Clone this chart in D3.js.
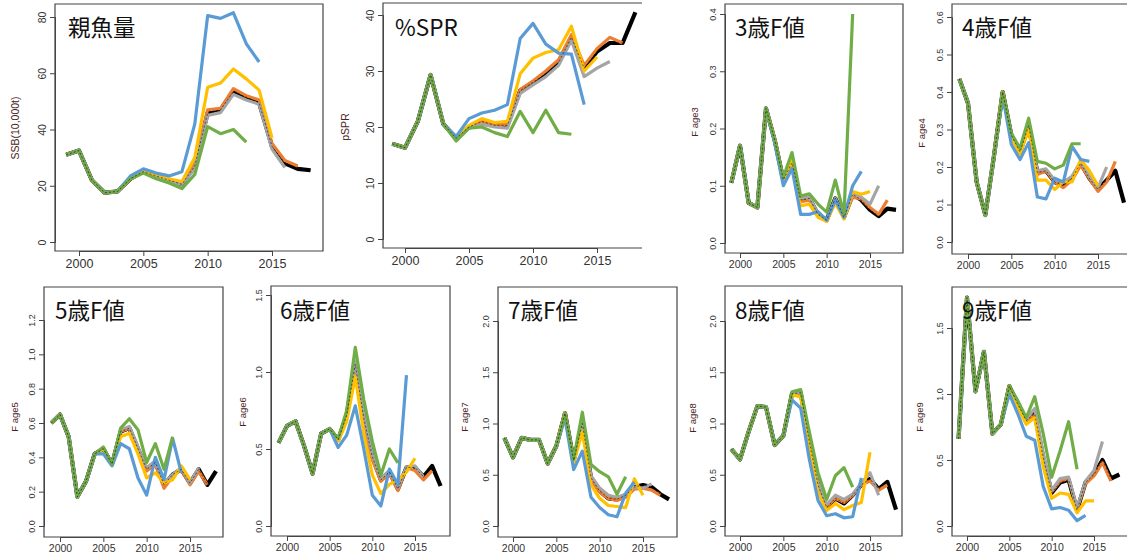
<!DOCTYPE html>
<html><head><meta charset="utf-8">
<script src="https://cdn.jsdelivr.net/npm/d3@7"></script>
<style>
html,body{margin:0;padding:0;background:#fff;}
svg{display:block;}
</style></head>
<body>
<svg id="chart" width="1127" height="557"></svg>
<script>
// ---------- data ----------
const years = [1999,2000,2001,2002,2003,2004,2005,2006,2007,2008,2009,2010,2011,2012,2013,2014,2015,2016,2017,2018];
const seriesNames = ["black","orange","grey","yellow","blue","green"];
const seriesColors = ["#000000","#ed7d31","#a5a5a5","#ffc000","#5b9bd5","#70ad47"];

const titles = ["親魚量","%SPR","3歳F値","4歳F値","5歳F値","6歳F値","7歳F値","8歳F値","9歳F値"];
const yTitles = ["SSB(10,000t)","pSPR","F age3","F age4","F age5","F age6","F age7","F age8","F age9"];
const xTicks = [2000,2005,2010,2015];
const yTicks = [
  [0,20,40,60,80],
  [0,10,20,30,40],
  [0,0.1,0.2,0.3,0.4],
  [0,0.1,0.2,0.3,0.4,0.5,0.6],
  [0,0.2,0.4,0.6,0.8,1.0,1.2],
  [0,0.5,1.0,1.5],
  [0,0.5,1.0,1.5,2.0],
  [0,0.5,1.0,1.5,2.0],
  [0,0.5,1.0,1.5]
];

// SSB
const ssbBlack  = [31,32.5,22,17.5,18,22.5,25,23.5,22,20.5,27,46,47,53.5,51.5,49.5,34,28,26,25.5];
const ssbOrange = [31,32.5,22,17.5,18,22.5,25,23.5,22,21,27.5,47,47.5,54.5,52,50.5,35,29,27];
const ssbGrey   = [31,32.5,22,17.5,18,22.5,25,23,21.5,20.5,26,45,46,52.5,50.5,49,33,26.5];
const ssbYellow = [31,32.5,22,17.5,18,22.5,25,24,22.5,21.5,30,55,56.5,61.5,58,54,37];
const ssbBlue   = [31,32.5,22,17.5,18,23.5,26,24.5,23.5,25,42,80.5,79.5,81.5,70.5,64];
const ssbGreen  = [31,32.5,22,17.5,18,22.5,24.5,22.5,21,19,24,41,38.5,40,35.5];
// %SPR
const sprBlack  = [17,16.3,21,29.3,20.5,18,20,21,20.3,20.3,26.5,28,29.5,31.5,36,30.5,33.5,35,35,40.5];
const sprOrange = [17,16.3,21,29.3,20.5,18,20,21,20.3,20.5,26.7,28.2,30,32,36.5,31,34,36,35];
const sprGrey   = [17,16.3,21,29.3,20.5,18,19.8,20.5,20,19.8,26,27.5,29,31,35.5,29,30.5,31.7];
const sprYellow = [17,16.3,21,29.3,20.5,18,20.3,21.5,20.8,21,29.5,32.3,33.3,33.8,38,30,32.5];
const sprBlue   = [17,16.3,21,29.3,20.5,18.3,21.5,22.5,23,24,35.8,38.5,34.8,33.2,33,24];
const sprGreen  = [17,16.3,21,29.3,20.5,17.5,19.8,20,19,18.3,22.8,19,23,19,18.7];
// F age3
const f3Black  = [0.105,0.17,0.07,0.062,0.235,0.18,0.11,0.14,0.075,0.078,0.05,0.04,0.078,0.045,0.085,0.075,0.058,0.047,0.06,0.058];
const f3Orange = [0.105,0.17,0.07,0.062,0.235,0.18,0.11,0.14,0.072,0.075,0.05,0.038,0.075,0.043,0.08,0.077,0.062,0.05,0.075];
const f3Grey   = [0.105,0.17,0.07,0.062,0.235,0.18,0.11,0.14,0.078,0.08,0.052,0.04,0.078,0.045,0.085,0.08,0.068,0.10];
const f3Yellow = [0.105,0.17,0.07,0.062,0.235,0.18,0.108,0.145,0.065,0.068,0.045,0.038,0.07,0.042,0.09,0.085,0.09];
const f3Blue   = [0.105,0.17,0.07,0.062,0.235,0.175,0.10,0.13,0.05,0.05,0.055,0.04,0.075,0.045,0.10,0.125];
const f3Green  = [0.105,0.17,0.07,0.062,0.235,0.18,0.115,0.158,0.082,0.086,0.068,0.054,0.11,0.05,0.40];
// F age4
const f4Black  = [0.435,0.37,0.16,0.072,0.23,0.40,0.285,0.24,0.31,0.185,0.19,0.16,0.15,0.17,0.21,0.17,0.14,0.165,0.19,0.105];
const f4Orange = [0.435,0.37,0.16,0.072,0.23,0.40,0.285,0.24,0.31,0.18,0.19,0.16,0.145,0.165,0.205,0.17,0.135,0.16,0.215];
const f4Grey   = [0.435,0.37,0.16,0.072,0.23,0.40,0.285,0.24,0.31,0.19,0.195,0.165,0.16,0.175,0.215,0.175,0.145,0.20];
const f4Yellow = [0.435,0.37,0.16,0.072,0.23,0.40,0.28,0.235,0.30,0.165,0.165,0.14,0.16,0.16,0.22,0.19,0.15];
const f4Blue   = [0.435,0.37,0.16,0.072,0.23,0.39,0.26,0.22,0.265,0.12,0.115,0.17,0.16,0.255,0.22,0.215];
const f4Green  = [0.435,0.37,0.16,0.072,0.23,0.40,0.29,0.25,0.33,0.215,0.21,0.195,0.205,0.262,0.262];
// F age5
const f5Black  = [0.60,0.65,0.52,0.17,0.26,0.42,0.45,0.36,0.55,0.57,0.45,0.33,0.37,0.24,0.30,0.33,0.25,0.33,0.24,0.32];
const f5Orange = [0.60,0.65,0.52,0.17,0.26,0.42,0.45,0.36,0.55,0.57,0.44,0.32,0.36,0.22,0.29,0.33,0.24,0.32,0.24];
const f5Grey   = [0.60,0.65,0.52,0.17,0.26,0.42,0.45,0.36,0.56,0.58,0.46,0.34,0.38,0.25,0.30,0.34,0.25,0.34];
const f5Yellow = [0.60,0.65,0.52,0.17,0.26,0.42,0.45,0.36,0.52,0.54,0.42,0.28,0.31,0.25,0.27,0.35,0.27];
const f5Blue   = [0.60,0.65,0.52,0.17,0.26,0.42,0.42,0.35,0.48,0.45,0.28,0.18,0.40,0.27,0.51,0.31];
const f5Green  = [0.60,0.65,0.52,0.17,0.26,0.42,0.46,0.36,0.57,0.625,0.56,0.37,0.48,0.33,0.52];
// F age6
const f6Black  = [0.54,0.65,0.68,0.52,0.34,0.60,0.63,0.56,0.72,1.05,0.70,0.45,0.30,0.35,0.24,0.38,0.38,0.32,0.39,0.26];
const f6Orange = [0.54,0.65,0.68,0.52,0.34,0.60,0.63,0.56,0.72,1.04,0.68,0.43,0.29,0.34,0.23,0.38,0.36,0.30,0.36];
const f6Grey   = [0.54,0.65,0.68,0.52,0.34,0.60,0.63,0.56,0.72,1.07,0.72,0.46,0.31,0.36,0.25,0.38,0.39,0.32];
const f6Yellow = [0.54,0.65,0.68,0.52,0.34,0.60,0.63,0.55,0.68,0.97,0.60,0.33,0.21,0.27,0.30,0.35,0.44];
const f6Blue   = [0.54,0.65,0.68,0.52,0.34,0.60,0.63,0.51,0.59,0.78,0.50,0.20,0.13,0.37,0.27,0.98];
const f6Green  = [0.54,0.65,0.68,0.52,0.34,0.60,0.63,0.57,0.75,1.16,0.82,0.55,0.33,0.50,0.41];
// F age7
const f7Black  = [0.86,0.67,0.86,0.84,0.84,0.61,0.78,1.10,0.64,1.0,0.47,0.34,0.27,0.26,0.30,0.38,0.40,0.38,0.31,0.26];
const f7Orange = [0.86,0.67,0.86,0.84,0.84,0.61,0.78,1.10,0.64,1.0,0.45,0.33,0.27,0.25,0.28,0.36,0.37,0.35,0.30];
const f7Grey   = [0.86,0.67,0.86,0.84,0.84,0.61,0.78,1.10,0.64,1.0,0.49,0.37,0.30,0.28,0.31,0.38,0.37,0.41];
const f7Yellow = [0.86,0.67,0.86,0.84,0.84,0.61,0.78,1.10,0.62,0.92,0.40,0.27,0.20,0.19,0.18,0.46,0.30];
const f7Blue   = [0.86,0.67,0.86,0.84,0.84,0.61,0.78,1.05,0.55,0.73,0.28,0.18,0.11,0.09,0.32,0.43];
const f7Green  = [0.86,0.67,0.86,0.84,0.84,0.61,0.78,1.10,0.65,1.11,0.60,0.53,0.48,0.31,0.48];
// F age8
const f8Black  = [0.75,0.65,0.92,1.17,1.16,0.79,0.88,1.29,1.30,0.82,0.40,0.18,0.27,0.22,0.30,0.40,0.46,0.36,0.43,0.16];
const f8Orange = [0.75,0.65,0.92,1.17,1.16,0.79,0.88,1.29,1.30,0.82,0.40,0.19,0.27,0.23,0.30,0.40,0.44,0.35,0.40];
const f8Grey   = [0.75,0.65,0.92,1.17,1.16,0.79,0.88,1.29,1.30,0.83,0.41,0.21,0.30,0.26,0.31,0.42,0.52,0.30];
const f8Yellow = [0.75,0.65,0.92,1.17,1.16,0.79,0.88,1.28,1.26,0.78,0.33,0.15,0.22,0.16,0.20,0.23,0.72];
const f8Blue   = [0.75,0.65,0.92,1.17,1.16,0.79,0.88,1.23,1.15,0.65,0.25,0.10,0.12,0.08,0.09,0.47];
const f8Green  = [0.75,0.65,0.92,1.17,1.16,0.79,0.88,1.31,1.33,0.92,0.52,0.26,0.49,0.57,0.38];
// F age9
const f9Black  = [0.66,1.73,1.02,1.32,0.70,0.77,1.06,0.92,0.80,0.85,0.52,0.25,0.33,0.35,0.12,0.33,0.39,0.50,0.36,0.39];
const f9Orange = [0.66,1.73,1.02,1.32,0.70,0.77,1.06,0.92,0.80,0.84,0.51,0.26,0.34,0.36,0.13,0.32,0.38,0.48,0.34];
const f9Grey   = [0.66,1.73,1.02,1.32,0.70,0.77,1.06,0.92,0.81,0.89,0.55,0.27,0.36,0.37,0.14,0.34,0.42,0.64];
const f9Yellow = [0.66,1.73,1.02,1.32,0.70,0.77,1.06,0.90,0.77,0.82,0.45,0.21,0.25,0.24,0.10,0.19,0.19];
const f9Blue   = [0.66,1.73,1.02,1.32,0.70,0.77,1.00,0.85,0.68,0.65,0.30,0.13,0.14,0.12,0.04,0.08];
const f9Green  = [0.66,1.73,1.02,1.32,0.70,0.77,1.06,0.95,0.82,0.98,0.70,0.37,0.57,0.79,0.43];

const panelData = [
  [ssbBlack,ssbOrange,ssbGrey,ssbYellow,ssbBlue,ssbGreen],
  [sprBlack,sprOrange,sprGrey,sprYellow,sprBlue,sprGreen],
  [f3Black,f3Orange,f3Grey,f3Yellow,f3Blue,f3Green],
  [f4Black,f4Orange,f4Grey,f4Yellow,f4Blue,f4Green],
  [f5Black,f5Orange,f5Grey,f5Yellow,f5Blue,f5Green],
  [f6Black,f6Orange,f6Grey,f6Yellow,f6Blue,f6Green],
  [f7Black,f7Orange,f7Grey,f7Yellow,f7Blue,f7Green],
  [f8Black,f8Orange,f8Grey,f8Yellow,f8Blue,f8Green],
  [f9Black,f9Orange,f9Grey,f9Yellow,f9Blue,f9Green]
];

// ---------- layout (pixels) ----------
// box: l,t,r,b ; x pixel of 2000 & 2015 ; y pixel of 0 & top tick
const layout = [
  {l:55, t:4,  r:323, b:251, x0:79,  x1:272, y0:242, y1:17,  title:[68,36],  yt:[15,128], rb:true, xf:12.5, yf:10.5},
  {l:383,t:3,  r:642, b:248, x0:405, x1:597, y0:239, y1:15,  title:[395,36], yt:[345,127], rb:false, xf:12.5, yf:10.5},
  {l:725,t:4,  r:903, b:253, x0:740, x1:870, y0:243, y1:14,  title:[735,36], yt:[695,122], rb:true, xf:10.5, yf:9},
  {l:952,t:4,  r:1130,b:254, x0:968, x1:1098,y0:242, y1:17,  title:[962,36], yt:[922,133], rb:false, xf:10.5, yf:9},
  {l:44, t:287,r:223, b:537, x0:60,  x1:190, y0:526, y1:320, title:[55,319], yt:[15,417], rb:true, xf:10.5, yf:9},
  {l:271,t:286,r:450, b:536, x0:287, x1:415, y0:526, y1:295, title:[280,319],yt:[243,412], rb:true, xf:10.5, yf:9},
  {l:498,t:287,r:677, b:537, x0:513, x1:643, y0:526, y1:321, title:[508,319],yt:[465,417], rb:true, xf:10.5, yf:9},
  {l:725,t:286,r:902, b:536, x0:740, x1:870, y0:526, y1:321, title:[735,319],yt:[693,418], rb:true, xf:10.5, yf:9},
  {l:952,t:287,r:1130,b:536, x0:967, x1:1094,y0:526, y1:328, title:[962,319],yt:[920,417], rb:false, xf:10.5, yf:9}
];

const svg = d3.select("#chart");
const fmt = [d3.format("d"), d3.format("d"), d3.format(".1f"), d3.format(".1f"), d3.format(".1f"), d3.format(".1f"), d3.format(".1f"), d3.format(".1f"), d3.format(".1f")];

layout.forEach((L, i) => {
  const g = svg.append("g");
  const ticksY = yTicks[i];
  const x = d3.scaleLinear().domain([xTicks[0], xTicks[xTicks.length-1]]).range([L.x0, L.x1]);
  const y = d3.scaleLinear().domain([0, ticksY[ticksY.length-1]]).range([L.y0, L.y1]);

  // lines
  const line = d3.line().x((d, k) => x(years[k])).y(d => y(d));
  panelData[i].forEach((arr, s) => {
    g.append("path")
      .attr("d", line(arr))
      .attr("fill", "none")
      .attr("stroke", seriesColors[s])
      .attr("stroke-width", s === 0 ? 4.2 : 3.2)
      .attr("stroke-linejoin", "round")
      .attr("stroke-linecap", "butt");
  });
  // thin dashed black overlay on the common/base run
  g.append("path")
    .attr("d", line(panelData[i][0]))
    .attr("fill", "none")
    .attr("stroke", "#000")
    .attr("stroke-width", 1)
    .attr("stroke-dasharray", "2,2")
    .attr("opacity", 0.55);

  // box
  const boxPath = L.rb
    ? `M${L.l},${L.t}H${L.r}V${L.b}H${L.l}Z`
    : `M${L.r},${L.t}H${L.l}V${L.b}H${L.r}`;
  g.append("path").attr("d", boxPath).attr("fill", "none").attr("stroke", "#444").attr("stroke-width", 1.2);

  // x axis
  const xa = g.append("g").attr("transform", `translate(0,${L.b})`)
    .call(d3.axisBottom(x).tickValues(xTicks).tickFormat(d3.format("d")).tickSize(5).tickPadding(3));
  xa.select(".domain").attr("stroke", "#444");
  xa.selectAll(".tick line").attr("stroke", "#444");
  xa.selectAll("text").attr("font-family", "Liberation Sans, Arial, sans-serif").attr("font-size", L.xf).attr("fill", "#333");

  // y axis
  const ya = g.append("g").attr("transform", `translate(${L.l},0)`)
    .call(d3.axisLeft(y).tickValues(ticksY).tickFormat(fmt[i]).tickSize(5).tickPadding(0));
  ya.select(".domain").attr("stroke", "#444");
  ya.selectAll(".tick line").attr("stroke", "#444");
  ya.selectAll("text")
    .attr("font-family", "Liberation Sans, Arial, sans-serif").attr("font-size", L.yf).attr("fill", "#333")
    .attr("x", null).attr("dy", null)
    .attr("text-anchor", "middle")
    .attr("transform", "translate(-9,0) rotate(-90)");

  // y title
  g.append("text")
    .attr("transform", `translate(${L.yt[0]},${L.yt[1]}) rotate(-90)`)
    .attr("text-anchor", "middle").attr("dy", "0.35em")
    .attr("font-family", "Liberation Sans, Arial, sans-serif")
    .attr("font-size", i < 2 ? 10.5 : 9.5)
    .attr("fill", "#4a2424")
    .text(yTitles[i]);

  // panel title
  g.append("text")
    .attr("x", L.title[0]).attr("y", L.title[1])
    .attr("font-family", "Noto Sans CJK JP, sans-serif")
    .attr("font-size", 22.5)
    .attr("fill", "#111")
    .text(titles[i]);
});
</script>
</body></html>
